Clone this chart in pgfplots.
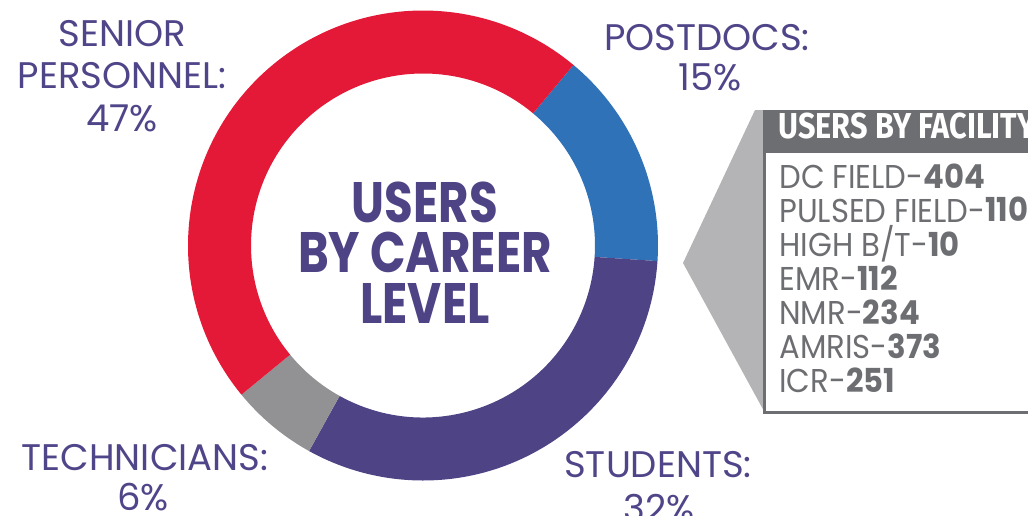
\documentclass[border=0pt]{standalone}
\usepackage{pgfplots}
\usepackage{pgfplotstable}
\pgfplotsset{compat=1.18}
\usepackage{fontspec}
\setmainfont{Poppins}
\newfontfamily\firab{Fira Sans}

\definecolor{cred}{HTML}{E31937}
\definecolor{cblue}{HTML}{2F72B8}
\definecolor{cpurple}{HTML}{4D4385}
\definecolor{cgray}{HTML}{929295}
\definecolor{ctext}{HTML}{4F4589}
\definecolor{boxgray}{HTML}{6D6E71}
\definecolor{arrowgray}{HTML}{B4B4B6}

% share of users by career level, clockwise from the top right
\pgfplotstableread{
label pct col
Postdocs 15 cblue
Students 32 cpurple
Technicians 6 cgray
Senior 47 cred
}\careertable

\begin{document}
\begin{tikzpicture}
\begin{axis}[
    scale only axis,
    width=514pt, height=257.5pt,
    xmin=0, xmax=1028, ymin=0, ymax=515,
    hide axis, clip=false,
]
% donut
\pgfmathsetmacro{\curang}{50.2}
\pgfplotstablegetrowsof{\careertable}
\pgfmathtruncatemacro{\nrows}{\pgfplotsretval-1}
\pgfplotsforeachungrouped \i in {0,...,\nrows}{
  \pgfplotstablegetelem{\i}{pct}\of{\careertable}\let\pct\pgfplotsretval
  \pgfplotstablegetelem{\i}{col}\of{\careertable}\let\col\pgfplotsretval
  \pgfmathsetmacro{\aend}{\curang-3.6*\pct}
  \edef\temp{\noexpand\fill[\col] (axis cs:{423+235*cos(\curang)},{269.5+235*sin(\curang)})
    arc[start angle=\curang, end angle=\aend, radius=117.5pt]
    -- (axis cs:{423+172*cos(\aend)},{269.5+172*sin(\aend)})
    arc[start angle=\aend, end angle=\curang, radius=86pt] -- cycle;}
  \temp
  \global\let\curang\aend
}

% centre title
\begin{scope}[every node/.style={anchor=base, inner sep=0pt, text height=18pt, text depth=0pt,
    text=cpurple, font=\fontsize{28.5}{28.5}\selectfont\bfseries}]
\node at (axis cs:425,293) {\scalebox{0.82}[1]{USERS}};
\node at (axis cs:425,243) {\scalebox{0.82}[1]{BY CAREER}};
\node at (axis cs:425,192) {\scalebox{0.82}[1]{LEVEL}};
\end{scope}

% slice labels
\begin{scope}[every node/.style={anchor=base, text=ctext, font=\fontsize{18.5}{18.5}\selectfont}]
\node at (axis cs:122,468) {SENIOR};
\node at (axis cs:122,427) {PERSONNEL:};
\node at (axis cs:122,384) {47\%};
\node at (axis cs:707,465) {POSTDOCS:};
\node at (axis cs:710,424) {15\%};
\node at (axis cs:658,38) {STUDENTS:};
\node at (axis cs:659,-6) {32\%};
\node at (axis cs:145,45) {TECHNICIANS:};
\node at (axis cs:143,5) {6\%};
\end{scope}

% users by facility box
\fill[arrowgray] (axis cs:683,252) -- (axis cs:755,405) -- (axis cs:765,405) -- (axis cs:765,102) -- cycle;
\fill[white] (axis cs:764,103) rectangle (axis cs:1040,362);
\draw[boxgray, line width=1.5pt] (axis cs:764.5,405) -- (axis cs:764.5,103) -- (axis cs:1040,103);
\fill[boxgray] (axis cs:763,405) rectangle (axis cs:1040,362);
\node[anchor=base west, text=white, inner sep=0pt] at (axis cs:778,377)
  {\firab\fontsize{18}{18}\selectfont\bfseries\scalebox{0.85}[1]{USERS BY FACILITY}};
\begin{scope}[every node/.style={anchor=base west, inner sep=0pt, text=boxgray, font=\fontsize{16.5}{16.5}\selectfont}]
\node at (axis cs:779,327) {\scalebox{0.93}[1]{DC FIELD-\textbf{404}}};
\node at (axis cs:779,293) {\scalebox{0.93}[1]{PULSED FIELD-\textbf{110}}};
\node at (axis cs:779,259) {\scalebox{0.93}[1]{HIGH B/T-\textbf{10}}};
\node at (axis cs:779,225) {\scalebox{0.93}[1]{EMR-\textbf{112}}};
\node at (axis cs:779,191) {\scalebox{0.93}[1]{NMR-\textbf{234}}};
\node at (axis cs:779,157) {\scalebox{0.93}[1]{AMRIS-\textbf{373}}};
\node at (axis cs:779,123) {\scalebox{0.93}[1]{ICR-\textbf{251}}};
\end{scope}
\end{axis}
\pgfresetboundingbox
\useasboundingbox (current axis.south west) rectangle (current axis.north east);
\end{tikzpicture}
\end{document}
